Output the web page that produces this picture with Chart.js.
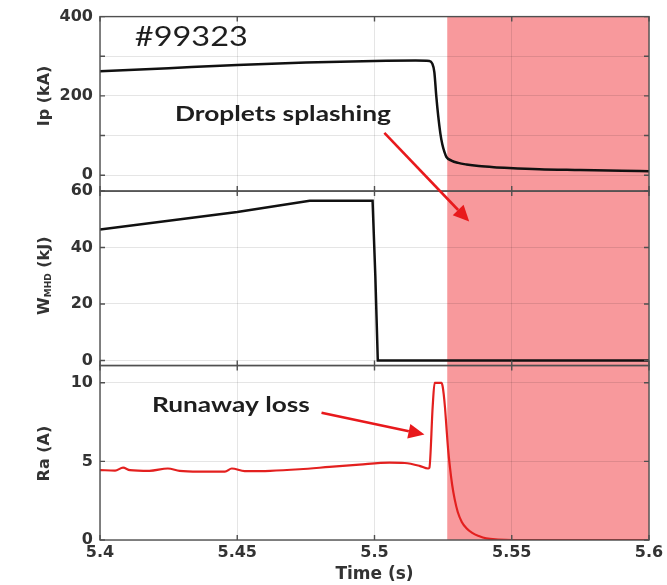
<!DOCTYPE html>
<html>
<head>
<meta charset="utf-8">
<script src="https://cdn.jsdelivr.net/npm/chart.js@4.4.1/dist/chart.umd.min.js"></script>
<style>
  html, body { margin: 0; padding: 0; background: #fff; }
  #wrap { width: 667px; height: 585px; }
</style>
</head>
<body>
<div id="wrap"><canvas id="shotChart" width="667" height="585"></canvas></div>
<script>
// time axis (s)
const timeTicks = [5.4, 5.45, 5.5, 5.55, 5.6];

// Ip (kA)
const ipTicks = [0, 100, 200, 300, 400];
const ipTickLabels = ['0', '', '200', '', '400'];
const ipTime = [5.400, 5.425, 5.450, 5.475, 5.500, 5.515, 5.5200, 5.5210, 5.5218, 5.5225, 5.5232, 5.5240, 5.5247, 5.5255, 5.5262, 5.528, 5.5305, 5.5335, 5.538, 5.5435, 5.549, 5.560, 5.575, 5.590, 5.600];
const ipVals = [262, 270, 278, 284, 288, 289, 288, 282, 260, 200, 150, 105, 78, 58, 46, 37, 31, 27, 23, 20, 18, 15, 13, 11, 10];

// W_MHD (kJ)
const wTicks = [0, 10, 20, 30, 40, 50, 60];
const wTickLabels = ['0', '', '20', '', '40', '', '60'];
const wTime = [5.400, 5.450, 5.4764, 5.4993, 5.5003, 5.5012, 5.600];
const wVals = [46.4, 52.6, 56.6, 56.6, 30, 0, 0];

// Ra (A)
const raTicks = [0, 5, 10];
const raTickLabels = ['0', '5', '10'];
const raTime = [5.400, 5.4055, 5.4084, 5.4109, 5.418, 5.4247, 5.429, 5.436, 5.4455, 5.448, 5.4527, 5.462, 5.4727, 5.4836, 5.4945, 5.5055, 5.511, 5.5164, 5.5195, 5.5200, 5.5212, 5.5219, 5.5244,
  5.5248, 5.5252, 5.5257, 5.5262, 5.5268, 5.5275, 5.5283, 5.5292, 5.5303, 5.5318, 5.5335, 5.5356, 5.538, 5.5407, 5.545, 5.550, 5.600];
const raVals = [4.45, 4.42, 4.6, 4.45, 4.4, 4.55, 4.4, 4.35, 4.35, 4.55, 4.38, 4.4, 4.5, 4.65, 4.8, 4.92, 4.9, 4.72, 4.55, 4.6, 8.5, 10, 10,
  9.8, 9.3, 8.4, 7.2, 5.8, 4.6, 3.5, 2.6, 1.8, 1.15, 0.75, 0.45, 0.25, 0.1, 0.03, 0, 0];

// shaded time window (droplet phase)
const shadeStart = 5.5265;
const shadeEnd = 5.6;

// annotations, placed in data coordinates
const notes = [
  { text: '#99323', x: 5.4127, y: 325, axis: 'yIp', bold: false, size: 27, width: 113 },
  { text: 'Droplets splashing', x: 5.4273, y: 137, axis: 'yIp', bold: true, size: 20, width: 216 },
  { text: 'Runaway loss', x: 5.4189, y: 8.16, axis: 'yRa', bold: true, size: 20, width: 158 }
];
const arrows = [
  { x0: 5.5036, y0: 107, a0: 'yIp', x1: 5.5345, y1: 49.2, a1: 'yW' },
  { x0: 5.4807, y0: 8.1, a0: 'yRa', x1: 5.5182, y1: 6.71, a1: 'yRa' }
];

function pairs(ts, vs) {
  return ts.map((t, i) => ({ x: t, y: vs[i] }));
}

function fitText(ctx, text, x, y, font, width) {
  ctx.save();
  ctx.font = font;
  const w = ctx.measureText(text).width;
  ctx.translate(x, y);
  ctx.scale(width / w, 1);
  ctx.fillText(text, 0, 0);
  ctx.restore();
}

function drawArrow(ctx, x0, y0, x1, y1) {
  const ang = Math.atan2(y1 - y0, x1 - x0);
  const hl = 16, hw = 7.5;
  const bx = x1 - hl * Math.cos(ang), by = y1 - hl * Math.sin(ang);
  ctx.strokeStyle = '#e8191c';
  ctx.fillStyle = '#e8191c';
  ctx.lineWidth = 2.6;
  ctx.beginPath();
  ctx.moveTo(x0, y0);
  ctx.lineTo(bx, by);
  ctx.stroke();
  ctx.beginPath();
  ctx.moveTo(x1, y1);
  ctx.lineTo(bx + hw * Math.sin(ang), by - hw * Math.cos(ang));
  ctx.lineTo(bx - hw * Math.sin(ang), by + hw * Math.cos(ang));
  ctx.closePath();
  ctx.fill();
}

const decor = {
  id: 'decor',
  beforeDraw(chart) {
    const { ctx, chartArea, scales } = chart;
    const x0 = scales.x.getPixelForValue(shadeStart);
    const x1 = scales.x.getPixelForValue(shadeEnd);
    ctx.save();
    ctx.fillStyle = '#f8999c';
    ctx.fillRect(x0, chartArea.top, x1 - x0, chartArea.bottom - chartArea.top);
    ctx.restore();
  },
  afterDatasetsDraw(chart) {
    const { ctx, chartArea, scales } = chart;
    const L = chartArea.left, R = chartArea.right;
    ctx.save();
    // panel frames and inward ticks
    ctx.strokeStyle = '#505050';
    ctx.lineWidth = 1.4;
    ['yIp', 'yW', 'yRa'].forEach(id => {
      const s = scales[id];
      ctx.strokeRect(L, s.top, R - L, s.bottom - s.top);
      ctx.beginPath();
      s.ticks.forEach(t => {
        const py = s.getPixelForValue(t.value);
        ctx.moveTo(L, py); ctx.lineTo(L + 5, py);
        ctx.moveTo(R, py); ctx.lineTo(R - 5, py);
      });
      timeTicks.forEach(t => {
        const px = scales.x.getPixelForValue(t);
        ctx.moveTo(px, s.top); ctx.lineTo(px, s.top + 5);
        ctx.moveTo(px, s.bottom); ctx.lineTo(px, s.bottom - 5);
      });
      ctx.stroke();
    });

    // y axis titles
    ctx.fillStyle = '#333';
    ctx.textBaseline = 'middle';
    const tx = 45;
    const big = 'bold 16px "DejaVu Sans"';
    const small = 'bold 9px "DejaVu Sans"';
    const titleAt = (id, v, parts) => {
      const cy = scales[id].getPixelForValue(v);
      ctx.save();
      ctx.translate(tx, cy);
      ctx.rotate(-Math.PI / 2);
      let total = 0;
      parts.forEach(p => { ctx.font = p.f; total += ctx.measureText(p.t).width; });
      let cx = -total / 2;
      ctx.textAlign = 'left';
      parts.forEach(p => {
        ctx.font = p.f;
        ctx.fillText(p.t, cx, p.dy || 0);
        cx += ctx.measureText(p.t).width;
      });
      ctx.restore();
    };
    titleAt('yIp', 200, [{ t: 'Ip (kA)', f: big }]);
    titleAt('yW', 30, [{ t: 'W', f: big }, { t: 'MHD', f: small, dy: 4 }, { t: ' (kJ)', f: big }]);
    titleAt('yRa', 5.5, [{ t: 'Ra (A)', f: big }]);

    // annotations
    ctx.fillStyle = '#1e1e1e';
    ctx.textAlign = 'left';
    ctx.textBaseline = 'alphabetic';
    notes.forEach(n => {
      const px = scales.x.getPixelForValue(n.x);
      const py = scales[n.axis].getPixelForValue(n.y);
      const font = (n.bold ? 'bold ' : '') + n.size + 'px Lato';
      fitText(ctx, n.text, px, py, font, n.width);
    });
    arrows.forEach(a => {
      drawArrow(ctx,
        scales.x.getPixelForValue(a.x0), scales[a.a0].getPixelForValue(a.y0),
        scales.x.getPixelForValue(a.x1), scales[a.a1].getPixelForValue(a.y1));
    });
    ctx.restore();
  }
};

const tickFont = { family: 'DejaVu Sans', size: 16, weight: 'bold' };
const gridColor = 'rgba(0,0,0,0.1)';

function yScale(ticks, labels, min, max, weight) {
  return {
    type: 'linear',
    position: 'left',
    stack: 'shot',
    stackWeight: 1,
    weight: weight,
    min: min,
    max: max,
    afterBuildTicks: s => { s.ticks = ticks.map(v => ({ value: v })); },
    afterFit: s => { s.width = 100; },
    ticks: {
      color: '#333',
      font: tickFont,
      padding: 7,
      callback: (v) => labels[ticks.indexOf(v)]
    },
    grid: { color: gridColor, drawTicks: false },
    border: { display: false }
  };
}

const ctx = document.getElementById('shotChart');
const shotChart = new Chart(ctx, {
  type: 'line',
  data: {
    datasets: [
      { data: pairs(ipTime, ipVals), yAxisID: 'yIp', borderColor: '#111', borderWidth: 2.5, pointRadius: 0, cubicInterpolationMode: 'monotone' },
      { data: pairs(wTime, wVals), yAxisID: 'yW', borderColor: '#111', borderWidth: 2.5, pointRadius: 0, tension: 0 },
      { data: pairs(raTime, raVals), yAxisID: 'yRa', borderColor: '#e3201f', borderWidth: 2.2, pointRadius: 0, cubicInterpolationMode: 'monotone' }
    ]
  },
  options: {
    responsive: false,
    animation: false,
    devicePixelRatio: 1,
    layout: { padding: { left: 0, right: 18, top: 15, bottom: 0 } },
    plugins: { legend: { display: false }, tooltip: { enabled: false } },
    scales: {
      x: {
        type: 'linear',
        min: 5.4,
        max: 5.6,
        afterBuildTicks: s => { s.ticks = timeTicks.map(v => ({ value: v })); },
        afterFit: s => { s.height = 45; },
        ticks: { color: '#333', font: tickFont, padding: 3, maxRotation: 0, callback: v => String(v) },
        grid: { color: gridColor, drawTicks: false },
        border: { display: false },
        title: { display: true, text: 'Time (s)', color: '#333', font: { family: 'DejaVu Sans', size: 17, weight: 'bold' }, padding: { top: 0, bottom: 0 } }
      },
      yIp: yScale(ipTicks, ipTickLabels, -40, 400, 3),
      yW: yScale(wTicks, wTickLabels, -1.8, 60, 2),
      yRa: yScale(raTicks, raTickLabels, 0, 11.1, 1)
    }
  },
  plugins: [decor]
});
</script>
</body>
</html>
